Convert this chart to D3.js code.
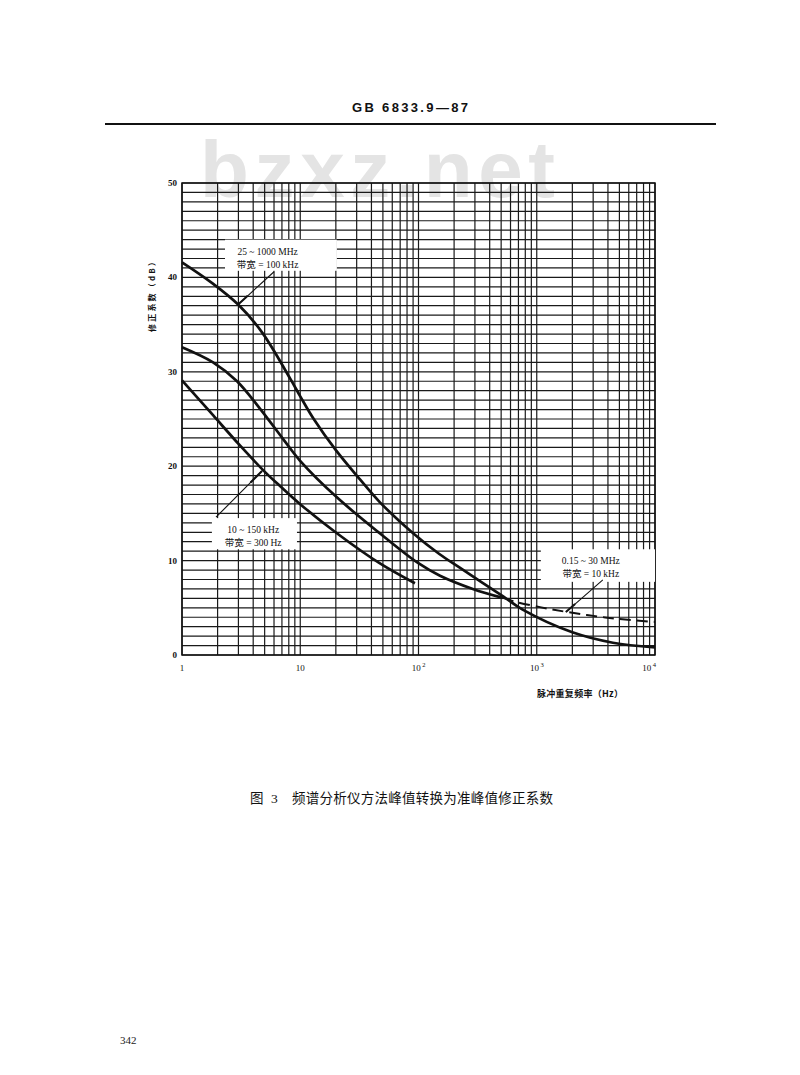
<!DOCTYPE html>
<html>
<head>
<meta charset="utf-8">
<script src="https://cdn.jsdelivr.net/npm/d3@7/dist/d3.min.js"></script>
<style>
  body { margin: 0; background: #fff; }
  svg { display: block; }
</style>
</head>
<body>
<div id="chart"></div>
<script>
// -- data (frequency in Hz, correction in dB)
var freqA = [1, 1.8, 3, 4.8, 8.2, 10, 13, 20, 32, 47, 90, 150, 220, 520, 760, 2000, 4400, 10000];
var dbA   = [41.6, 39.4, 37.1, 34.1, 29.3, 27.4, 25.0, 21.7, 18.6, 16.2, 12.9, 10.7, 9.3, 6.2, 4.8, 2.4, 1.3, 0.8];

var freqB = [1, 1.83, 2.92, 4.56, 7.14, 9.93, 20.4, 47, 99, 152, 288, 517];
var dbB   = [32.6, 31.0, 29.0, 26.1, 22.9, 20.6, 16.7, 12.9, 9.75, 8.4, 7.0, 6.05];

var freqBdash = [517, 679, 1290, 2650, 5040, 10000];
var dbBdash   = [6.05, 5.6, 4.87, 4.24, 3.81, 3.5];

var freqC = [1, 1.83, 3.09, 5.02, 6.74, 9.93, 20.4, 47.2, 93.3];
var dbC   = [29.1, 25.4, 22.2, 19.4, 17.9, 16.0, 12.9, 9.7, 7.6];

var dbTicks = [0, 10, 20, 30, 40, 50];
var freqTicks = [1, 10, 100, 1000, 10000];
var freqTickBase = ["1", "10", "10", "10", "10"];
var freqTickExp  = ["", "", "2", "3", "4"];

var labelLines = [
  ["25 ~ 1000 MHz", "带宽 = 100 kHz"],
  ["10 ~ 150 kHz", "带宽 = 300 Hz"],
  ["0.15 ~ 30 MHz", "带宽 = 10 kHz"]
];
// label boxes [f0, f1, dbLow, dbHigh], text centre f, leader from/to [f, dB]
var labelBox  = [[2.31, 20.4, 40.7, 44.0], [1.79, 9.38, 11.2, 14.5], [1083, 10000, 7.75, 11.2]];
var labelTxtF = [5.3, 4.0, 2865];
var leadFrom  = [[6.0, 40.6], [1.94, 14.6], [3622, 7.95]];
var leadTo    = [[3.03, 37.2], [4.75, 19.5], [1762, 4.55]];

var W = 800, H = 1075;
var svg = d3.select("#chart").append("svg")
    .attr("width", W).attr("height", H);

var x = d3.scaleLog().domain([1, 10000]).range([182, 655]);
var y = d3.scaleLinear().domain([0, 50]).range([655, 183]);

// header
svg.append("text")
    .attr("x", 352).attr("y", 112)
    .attr("textLength", 116).attr("lengthAdjust", "spacing")
    .attr("font-family", "Liberation Sans, Arial, sans-serif")
    .attr("font-weight", "bold").attr("font-size", "13px")
    .attr("fill", "#111")
    .text("GB 6833.9—87");
svg.append("line")
    .attr("x1", 105).attr("x2", 716).attr("y1", 124).attr("y2", 124)
    .attr("stroke", "#111").attr("stroke-width", 2);

// watermark (under the grid)
svg.append("text")
    .attr("x", 200).attr("y", 197)
    .attr("textLength", 355).attr("lengthAdjust", "spacing")
    .attr("font-family", "Liberation Sans, Arial, sans-serif")
    .attr("font-weight", "bold").attr("font-size", "80px")
    .attr("fill", "#e4e4e4")
    .text("bzxz.net");

var g = svg.append("g");

// grid
g.selectAll(".hgrid")
    .data(y.ticks(50))
    .enter().append("line")
    .attr("class", "hgrid")
    .attr("x1", x(1)).attr("x2", x(10000))
    .attr("y1", function(d) { return y(d); })
    .attr("y2", function(d) { return y(d); })
    .attr("stroke", "#1a1a1a").attr("stroke-width", 1.2);

g.selectAll(".vgrid")
    .data(x.ticks())
    .enter().append("line")
    .attr("class", "vgrid")
    .attr("x1", function(d) { return x(d); })
    .attr("x2", function(d) { return x(d); })
    .attr("y1", y(0)).attr("y2", y(50))
    .attr("stroke", "#1a1a1a").attr("stroke-width", 1.2);

g.append("rect")
    .attr("x", x(1)).attr("y", y(50))
    .attr("width", x(10000) - x(1)).attr("height", y(0) - y(50))
    .attr("fill", "none").attr("stroke", "#111").attr("stroke-width", 1.5);

// white label boxes cut the grid
g.selectAll(".lbox")
    .data(labelBox)
    .enter().append("rect")
    .attr("class", "lbox")
    .attr("x", function(d) { return x(d[0]); })
    .attr("y", function(d) { return y(d[3]); })
    .attr("width", function(d) { return x(d[1]) - x(d[0]); })
    .attr("height", function(d) { return y(d[2]) - y(d[3]); })
    .attr("fill", "#fff");

// curves
var line = d3.line()
    .x(function(d) { return x(d[0]); })
    .y(function(d) { return y(d[1]); })
    .curve(d3.curveCatmullRom.alpha(0.5));

function pairs(f, v) { return f.map(function(d, i) { return [d, v[i]]; }); }

g.append("path").datum(pairs(freqA, dbA))
    .attr("d", line).attr("fill", "none")
    .attr("stroke", "#111").attr("stroke-width", 2.7);
g.append("path").datum(pairs(freqB, dbB))
    .attr("d", line).attr("fill", "none")
    .attr("stroke", "#111").attr("stroke-width", 2.7);
g.append("path").datum(pairs(freqBdash, dbBdash))
    .attr("d", line).attr("fill", "none")
    .attr("stroke", "#111").attr("stroke-width", 2)
    .attr("stroke-dasharray", "11,6");
g.append("path").datum(pairs(freqC, dbC))
    .attr("d", line).attr("fill", "none")
    .attr("stroke", "#111").attr("stroke-width", 2.7);

// leader lines
labelBox.forEach(function(b, i) {
    var x0 = x(leadFrom[i][0]), y0 = y(leadFrom[i][1]);
    var x1 = x(leadTo[i][0]), y1 = y(leadTo[i][1]);
    g.append("line")
        .attr("x1", x0).attr("y1", y0).attr("x2", x1).attr("y2", y1)
        .attr("stroke", "#111").attr("stroke-width", 1.1);
    // thicker tip near the curve
    var t = 0.25;
    g.append("line")
        .attr("x1", x1 + (x0 - x1) * t).attr("y1", y1 + (y0 - y1) * t)
        .attr("x2", x1).attr("y2", y1)
        .attr("stroke", "#111").attr("stroke-width", 2);

    var tx = x(labelTxtF[i]), ty = y(b[3]);
    labelLines[i].forEach(function(s, k) {
        g.append("text")
            .attr("x", tx).attr("y", ty + 15 + k * 13)
            .attr("text-anchor", "middle")
            .attr("font-family", "Liberation Serif, 'Noto Sans CJK SC', serif")
            .attr("font-size", "9.5px").attr("fill", "#111")
            .text(s);
    });
});

// tick labels
g.selectAll(".ylab")
    .data(dbTicks)
    .enter().append("text")
    .attr("class", "ylab")
    .attr("x", 177).attr("y", function(d) { return y(d) + 3; })
    .attr("text-anchor", "end")
    .attr("font-family", "Liberation Serif, serif")
    .attr("font-weight", "bold").attr("font-size", "9px")
    .attr("fill", "#111")
    .text(function(d) { return d; });

var xl = g.selectAll(".xlab")
    .data(freqTicks)
    .enter().append("text")
    .attr("class", "xlab")
    .attr("x", function(d, i) { return x(d) + (i == 4 ? -6 : 0); })
    .attr("y", 671)
    .attr("text-anchor", "middle")
    .attr("font-family", "Liberation Serif, serif")
    .attr("font-size", "9px").attr("fill", "#111");
xl.append("tspan").text(function(d, i) { return freqTickBase[i]; });
xl.append("tspan")
    .attr("dy", -4).attr("dx", 1.5).attr("font-size", "6.5px")
    .text(function(d, i) { return freqTickExp[i]; });

// axis titles
svg.append("text")
    .attr("transform", "translate(155,295) rotate(-90)")
    .attr("text-anchor", "middle")
    .attr("textLength", 74).attr("lengthAdjust", "spacing")
    .attr("font-family", "'Noto Sans CJK SC', sans-serif")
    .attr("font-weight", "bold").attr("font-size", "8px")
    .attr("fill", "#111")
    .text("修正系数（dB）");

svg.append("text")
    .attr("x", 537).attr("y", 697)
    .attr("textLength", 86).attr("lengthAdjust", "spacing")
    .attr("font-family", "'Noto Sans CJK SC', sans-serif")
    .attr("font-weight", "bold").attr("font-size", "9px")
    .attr("fill", "#111")
    .text("脉冲重复频率（Hz）");

// caption
svg.append("text")
    .attr("x", 250).attr("y", 803)
    .attr("font-family", "'Noto Sans CJK SC', sans-serif")
    .attr("font-size", "13.5px").attr("fill", "#111")
    .text("图");
svg.append("text")
    .attr("x", 271).attr("y", 803)
    .attr("font-family", "Liberation Serif, serif")
    .attr("font-size", "13.5px").attr("fill", "#111")
    .text("3");
svg.append("text")
    .attr("x", 292).attr("y", 803)
    .attr("textLength", 261).attr("lengthAdjust", "spacing")
    .attr("font-family", "'Noto Sans CJK SC', sans-serif")
    .attr("font-size", "13.5px").attr("fill", "#111")
    .text("频谱分析仪方法峰值转换为准峰值修正系数");

// page number
svg.append("text")
    .attr("x", 120).attr("y", 1044)
    .attr("font-family", "Liberation Serif, serif")
    .attr("font-size", "11px").attr("fill", "#222")
    .text("342");
</script>
</body>
</html>
